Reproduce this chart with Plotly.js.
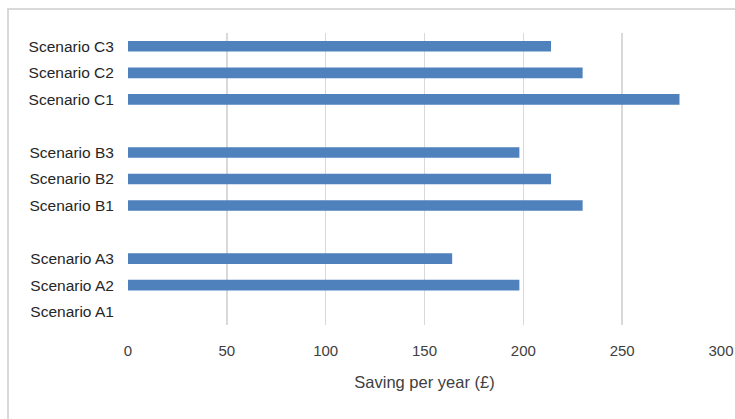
<!DOCTYPE html>
<html>
<head>
<meta charset="utf-8">
<script src="https://cdn.plot.ly/plotly-3.0.1.min.js"></script>
<style>
  html, body { margin: 0; padding: 0; background: #ffffff; overflow: hidden; }
  #chart { width: 735px; height: 419px; position: relative; }
  #frame {
    position: absolute; left: 7px; top: 8px; width: 800px; height: 500px;
    border-left: 2px solid #d9d9d9; border-top: 2px solid #d9d9d9;
    pointer-events: none;
  }
</style>
</head>
<body>
<div id="chart"></div>
<div id="frame"></div>
<script>
// Scenarios listed bottom to top; the blank entries keep a gap between groups
const scenarios = ["Scenario A1", "Scenario A2", "Scenario A3", " ",
                   "Scenario B1", "Scenario B2", "Scenario B3", "  ",
                   "Scenario C1", "Scenario C2", "Scenario C3"];
const savings = [0, 198, 164, null, 230, 214, 198, null, 279, 230, 214];
const xTicks = [0, 50, 100, 150, 200, 250, 300];

const font = "Liberation Sans, Arial, sans-serif";

const trace = {
  type: "bar",
  orientation: "h",
  y: scenarios,
  x: savings,
  width: 0.4,
  marker: { color: "#4f81bd", line: { width: 0 } },
  hoverinfo: "skip"
};

const layout = {
  width: 735,
  height: 419,
  margin: { l: 128, r: 14, t: 33, b: 94 },
  paper_bgcolor: "#ffffff",
  plot_bgcolor: "#ffffff",
  showlegend: false,
  font: { family: font, size: 15, color: "#404040" },
  xaxis: {
    range: [0, 300],
    tickvals: xTicks,
    ticktext: xTicks.map(String),
    showgrid: true,
    gridcolor: "#d9d9d9",
    gridwidth: 1.5,
    zeroline: false,
    showline: false,
    ticks: "outside",
    ticklen: 12,
    tickcolor: "rgba(0,0,0,0)",
    tickfont: { family: font, size: 15, color: "#404040" },
    title: { text: "Saving per year (£)", font: { family: font, size: 16.5, color: "#404040" }, standoff: 18 }
  },
  yaxis: {
    type: "category",
    categoryorder: "array",
    categoryarray: scenarios,
    range: [-0.5, 10.5],
    showgrid: false,
    zeroline: false,
    showline: false,
    ticks: "outside",
    ticklen: 10,
    tickcolor: "rgba(0,0,0,0)",
    tickfont: { family: font, size: 15.5, color: "#262626" }
  },
  bargap: 0.6
};

Plotly.newPlot("chart", [trace], layout, { displayModeBar: false, staticPlot: true });
</script>
</body>
</html>
